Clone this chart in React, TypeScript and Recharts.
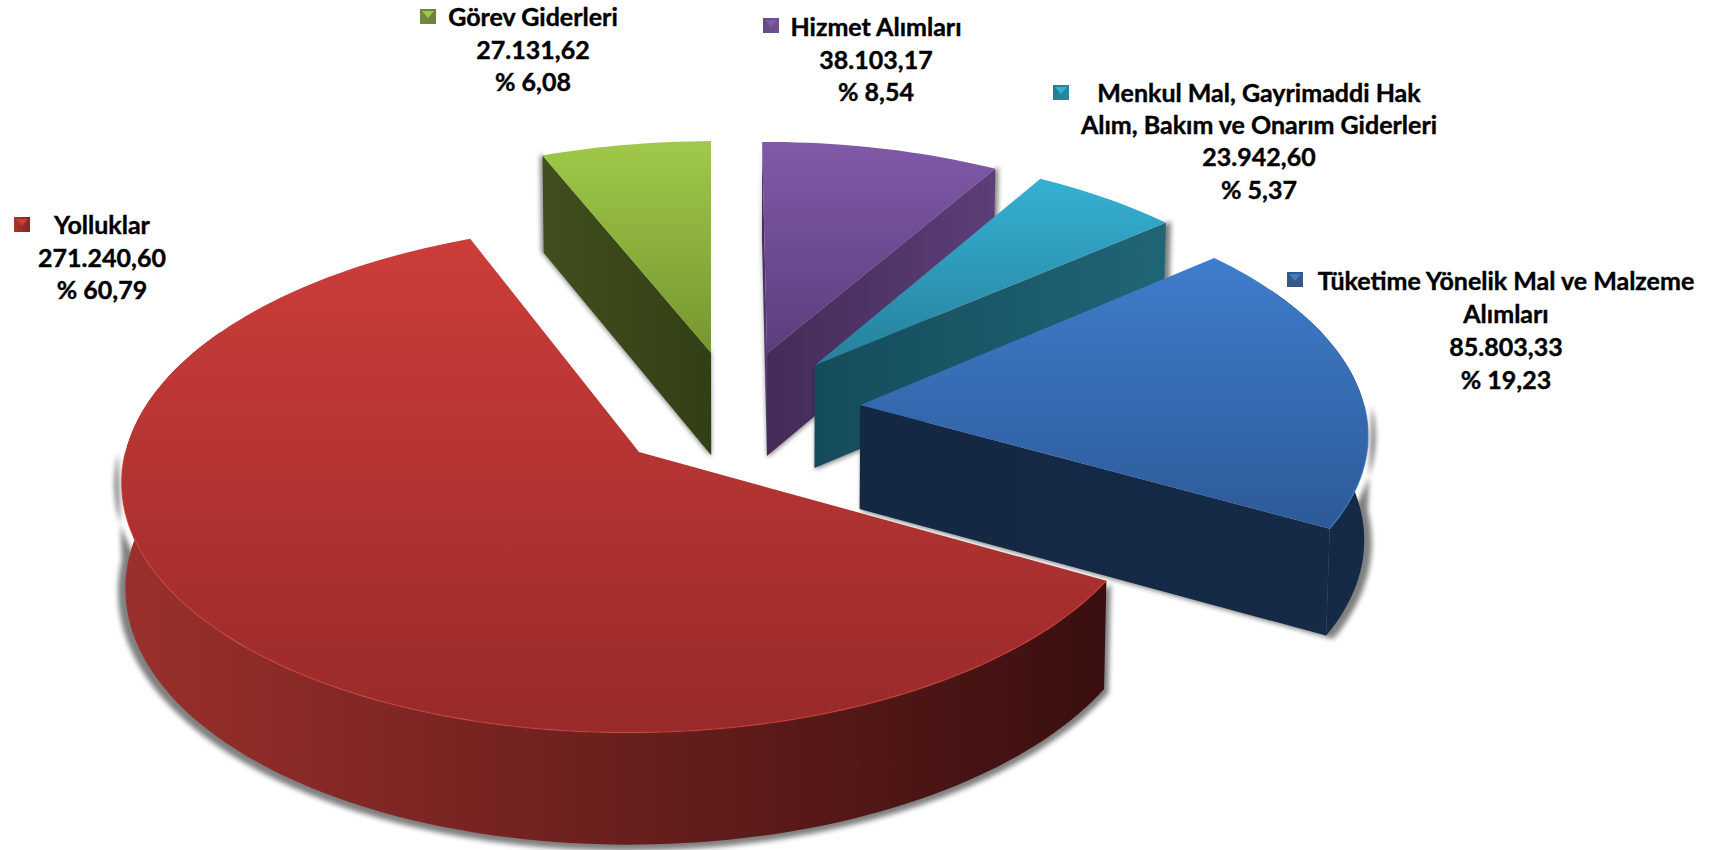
import React from 'react';
import { PieChart, Pie, Cell } from 'recharts';

const categories = ['Görev Giderleri', 'Hizmet Alımları', 'Menkul Mal, Gayrimaddi Hak Alım, Bakım ve Onarım Giderleri', 'Tüketime Yönelik Mal ve Malzeme Alımları', 'Yolluklar'];
const amounts = [27131.62, 38103.17, 23942.6, 85803.33, 271240.6];
const amountLabels = ['27.131,62', '38.103,17', '23.942,60', '85.803,33', '271.240,60'];
const percentLabels = ['% 6,08', '% 8,54', '% 5,37', '% 19,23', '% 60,79'];
const nameLines = [
  ['Görev Giderleri'],
  ['Hizmet Alımları'],
  ['Menkul Mal, Gayrimaddi Hak', 'Alım, Bakım ve Onarım Giderleri'],
  ['Tüketime Yönelik Mal ve Malzeme', 'Alımları'],
  ['Yolluklar'],
];

const data = categories.map((name, i) => ({ name, value: amounts[i] }));

// top gradient, wall gradient, marker colours per slice
const colors = [
  { top: ['#a0c94a', '#75962f'], wall: ['#414f1d', '#323f15'], mark: '#9bbb59' },
  { top: ['#8059a8', '#5b3e7c'], wall: ['#432c58', '#5c3e78'], mark: '#8064a2' },
  { top: ['#35b1d3', '#26809b'], wall: ['#154c5b', '#206577'], mark: '#31a5c4' },
  { top: ['#3f7dcc', '#2d5a98'], wall: ['#142844', '#152a47'], mark: '#4f81bd' },
  { top: ['#cc3d39', '#982a29'], wall: ['#9a302c', '#3a0f0f'], mark: '#c0392f' },
];

const labelPos = [
  { x: 533, y: 16, gap: 32.5, mx: 420, my: 9, size: 25 },
  { x: 876, y: 26, gap: 32.5, mx: 763, my: 18, size: 25 },
  { x: 1259, y: 92, gap: 32.2, mx: 1053, my: 85, size: 25 },
  { x: 1506, y: 280, gap: 33, mx: 1287, my: 272, size: 25 },
  { x: 102, y: 224, gap: 32.5, mx: 14, my: 217, size: 25 },
];

const TILT = 0.4826;
const PERSP = 0.1;
const EXPLODE = 0.25;
const DEPTH = 104;
const FONT = 'Lato, Carlito, sans-serif';

const renderSlice = (props: any) => {
  const { cx, cy, outerRadius: R, startAngle, endAngle, index } = props;
  const t1 = -startAngle;
  const t2 = -endAngle;
  const mid = ((t1 + t2) / 2) * (Math.PI / 180);
  const ox = Math.cos(mid) * EXPLODE;
  const oy = Math.sin(mid) * EXPLODE;
  const pt = (X: number, Y: number, low: number) => {
    const s = 1 / (1 - PERSP * Y);
    const k = low ? 0.994 : 1;
    return [cx + R * X * s * k, cy + R * TILT * Y * s + low * DEPTH * Math.pow(s, 0.6)];
  };
  const rim = (deg: number, low: number) => {
    const a = (deg * Math.PI) / 180;
    return pt(ox + Math.cos(a), oy + Math.sin(a), low);
  };
  const arc = (a: number, b: number, low: number) => {
    const out: number[][] = [];
    const n = Math.max(2, Math.ceil(Math.abs(b - a) / 1.5));
    for (let i = 0; i <= n; i++) out.push(rim(a + ((b - a) * i) / n, low));
    return out;
  };
  const d = (pts: number[][]) => 'M' + pts.map((p) => p[0].toFixed(1) + ' ' + p[1].toFixed(1)).join('L') + 'Z';
  const apexTop = pt(ox, oy, 0);
  const apexLow = pt(ox, oy, 1);
  const topFace = [apexTop, ...arc(t1, t2, 0)];
  const wallFill = `url(#wall${index})`;
  const startWall = d([apexTop, rim(t1, 0), rim(t1, 1), apexLow]);
  const endWall = d([apexTop, rim(t2, 0), rim(t2, 1), apexLow]);
  const cos1 = Math.cos((t1 * Math.PI) / 180);
  const cos2 = Math.cos((t2 * Math.PI) / 180);
  const walls: React.ReactNode[] = [];
  // only cut faces that look towards the viewer
  if (cos1 < -0.001) walls.push(<path key="s" d={startWall} fill={wallFill} />);
  if (cos2 > 0.001) walls.push(<path key="e" d={endWall} fill={wallFill} />);
  // rim, a bit past the sides because of the perspective silhouette
  const fronts: number[][] = [];
  for (const k of [0, 360, -360]) {
    const a = Math.max(t1, k - 30);
    const b = Math.min(t2, k + 210);
    if (b > a) fronts.push([a, b, k]);
  }
  const rimPaths = fronts.map(([a, b]) => d([...arc(a, b, 0), ...arc(a, b, 1).reverse()]));
  const shadowRims = fronts.map(([a, b, k]) => {
    const sa = Math.max(a, k);
    const sb = Math.min(b, k + 180);
    return d([...arc(sa, sb, 1), ...arc(sa, sb, 0).reverse()]);
  });
  const highlight = fronts.map(([a, b, k], i) => {
    const top = arc(Math.max(a, k), Math.min(b, k + 180), 0);
    return (
      <path
        key={'h' + i}
        d={'M' + top.map((p) => p[0].toFixed(1) + ' ' + p[1].toFixed(1)).join('L')}
        fill="none"
        stroke={colors[index].top[0]}
        strokeOpacity={0.6}
        strokeWidth={1.5}
      />
    );
  });
  const pivotY = cy + 100;
  return (
    <g>
      <g
        filter="url(#sliceShadow)"
        transform={`translate(${cx} ${pivotY}) scale(1.012) translate(${-cx} ${-pivotY})`}
      >
        {cos1 < 0.05 && <path d={startWall} />}
        {cos2 > -0.05 && <path d={endWall} />}
        {shadowRims.map((p, i) => (
          <path key={i} d={p} />
        ))}
      </g>
      {rimPaths.map((p, i) => (
        <path key={i} d={p} fill={wallFill} />
      ))}
      {walls}
      <path d={d(topFace)} fill={`url(#top${index})`} />
      {highlight}
    </g>
  );
};

const renderLabel = (props: any) => {
  const i = props.index;
  const p = labelPos[i];
  const lines = [...nameLines[i], amountLabels[i], percentLabels[i]];
  const c = colors[i];
  return (
    <g key={i}>
      <rect x={p.mx} y={p.my} width={16} height={15} fill={`url(#wall${i})`} />
      <rect x={p.mx} y={p.my} width={16} height={15} fill={c.mark} fillOpacity={0.55} />
      <path d={`M${p.mx + 2} ${p.my + 2}h12l-6 7z`} fill={c.top[0]} />
      {lines.map((line, n) => (
        <text
          key={n}
          x={p.x}
          y={p.y + n * p.gap}
          textAnchor="middle"
          dominantBaseline="central"
          fontFamily={FONT}
          fontWeight={700}
          fontSize={p.size}
          fill="#000"
          stroke="#000"
          strokeWidth={0.4}
        >
          {line}
        </text>
      ))}
    </g>
  );
};

const App: React.FC = () => {
  return (
    <div style={{ position: 'absolute', left: 0, top: 0, width: 1723, height: 850, overflow: 'hidden', background: '#fff' }}>
      <PieChart width={1723} height={850} margin={{ top: 0, right: 0, bottom: 0, left: 0 }}>
        <defs>
          <filter id="sliceShadow" filterUnits="userSpaceOnUse" x="0" y="0" width="1723" height="850">
            <feOffset dx="0" dy="2" in="SourceAlpha" />
            <feGaussianBlur stdDeviation="2.5" />
            <feComponentTransfer>
              <feFuncA type="linear" slope="0.5" />
            </feComponentTransfer>
          </filter>
          {colors.map((c, i) => (
            <React.Fragment key={i}>
              <linearGradient id={`top${i}`} x1="0" y1="0" x2="0" y2="1">
                <stop offset="0" stopColor={c.top[0]} />
                <stop offset="1" stopColor={c.top[1]} />
              </linearGradient>
              <linearGradient id={`wall${i}`} x1="0" y1="0" x2="1" y2="0">
                <stop offset="0" stopColor={c.wall[0]} />
                <stop offset="1" stopColor={c.wall[1]} />
              </linearGradient>
            </React.Fragment>
          ))}
        </defs>
        <Pie
          data={data}
          dataKey="value"
          nameKey="name"
          cx={735}
          cy={411}
          outerRadius={505}
          startAngle={-247.84}
          endAngle={-607.84}
          stroke="none"
          isAnimationActive={false}
          labelLine={false}
          label={renderLabel}
          shape={renderSlice}
        >
          {data.map((d, i) => (
            <Cell key={d.name} fill={colors[i].mark} />
          ))}
        </Pie>
      </PieChart>
    </div>
  );
};

export default App;
